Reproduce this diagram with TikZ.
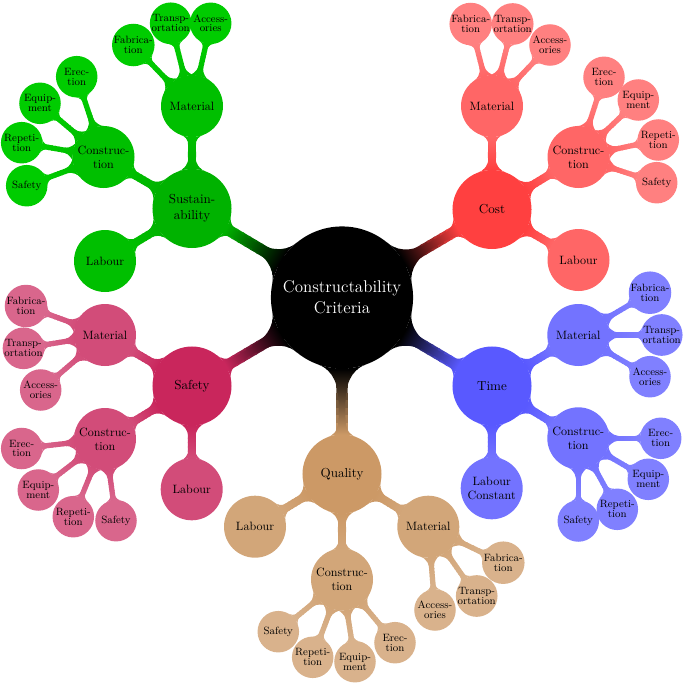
\documentclass[tikz,border=0pt]{standalone}
\usetikzlibrary{mindmap,calc,backgrounds}
\colorlet{gA}{green!70!black}\colorlet{gB}{green!75!black}\colorlet{gC}{green!80!black}
\colorlet{rA}{red!75}\colorlet{rB}{red!60}\colorlet{rC}{red!50}
\colorlet{bA}{blue!65}\colorlet{bB}{blue!55}\colorlet{bC}{blue!50}
\colorlet{tA}{brown!80}\colorlet{tB}{brown!70}\colorlet{tC}{brown!60}
\colorlet{pA}{purple!85}\colorlet{pB}{purple!70}\colorlet{pC}{purple!60}
% a b colA colB width
\newcommand\cbar[5]{%
  \foreach \i in {0,...,23}{%
    \pgfmathsetmacro\ta{\i/24}%
    \pgfmathsetmacro\tb{(\i+1.3)/24}%
    \pgfmathsetmacro\pc{min(100,max(0,(\ta+0.02-0.39)/0.36*100))}%
    \draw[line width=#5, color={#4!\pc!#3}] ($(#1)!\ta!(#2)$) -- ($(#1)!\tb!(#2)$);
  }%
  \path (#1) to[circle connection bar switch color=from (#3) to (#4)] (#2);}
\begin{document}
\begin{tikzpicture}[x=0.0285714cm,y=-0.0285714cm, mindmap,
  cpt/.style={concept, circle, inner sep=0pt, outer sep=0pt, align=center, text width={}, text=black, draw=none},
  rootc/.style={cpt, concept color=black, text=white, minimum size=4.06cm, font=\fontsize{13.8}{17}\selectfont},
  lone/.style={cpt, minimum size=2.257cm, font=\fontsize{10.6}{13}\selectfont},
  ltwo/.style={cpt, minimum size=1.771cm, font=\fontsize{9.8}{11.5}\selectfont},
  lthree/.style={cpt, minimum size=1.186cm, font=\fontsize{8.6}{8}\selectfont}]
\useasboundingbox (0,0) rectangle (685,685);
% root
\node[rootc] (root) at (342,297.5) {Constructability\\Criteria};
% level 1
\node[lone, concept color=rA] (cost) at (492,209.5) {Cost};
\node[lone, concept color=bA] (time) at (492,386) {Time};
\node[lone, concept color=tA] (qual) at (342,474) {Quality};
\node[lone, concept color=pA] (safe) at (192,386) {Safety};
\node[lone, concept color=gA] (sust) at (192,208.5) {Sustain-\\ability};
% cost
\node[ltwo, concept color=rB] (costmat) at (492,106) {Material};
\node[ltwo, concept color=rB] (costcon) at (578.5,157) {Construc-\\tion};
\node[ltwo, concept color=rB] (costlab) at (578.5,260) {Labour};
\node[lthree, concept color=rC] (costfab) at (470.7,24) {Fabrica-\\tion};
\node[lthree, concept color=rC] (costtra) at (512.7,24) {Transp-\\ortation};
\node[lthree, concept color=rC] (costacc) at (550,45) {Access-\\ories};
\node[lthree, concept color=rC] (costere) at (604,77.3) {Erec-\\tion};
\node[lthree, concept color=rC] (costequ) at (638.3,100) {Equip-\\ment};
\node[lthree, concept color=rC] (costrep) at (658.3,140) {Repeti-\\tion};
\node[lthree, concept color=rC] (costsaf) at (656.7,182.7) {Safety};
% sustainability
\node[ltwo, concept color=gB] (sustmat) at (192,106) {Material};
\node[ltwo, concept color=gB] (sustcon) at (103.5,157) {Construc-\\tion};
\node[ltwo, concept color=gB] (sustlab) at (105,261) {Labour};
\node[lthree, concept color=gC] (sustfab) at (133.3,45) {Fabrica-\\tion};
\node[lthree, concept color=gC] (susttra) at (170.7,23.3) {Transp-\\ortation};
\node[lthree, concept color=gC] (sustacc) at (210.7,23.3) {Access-\\ories};
\node[lthree, concept color=gC] (sustere) at (76.7,76.7) {Erec-\\tion};
\node[lthree, concept color=gC] (sustequ) at (40,103.3) {Equip-\\ment};
\node[lthree, concept color=gC] (sustrep) at (21.7,142.7) {Repeti-\\tion};
\node[lthree, concept color=gC] (sustsaf) at (26.7,185.7) {Safety};
% time
\node[ltwo, concept color=bB] (timemat) at (578.3,335) {Material};
\node[ltwo, concept color=bB] (timecon) at (578.3,438.3) {Construc-\\tion};
\node[ltwo, concept color=bB] (timelab) at (491.7,488.3) {Labour\\Constant};
\node[lthree, concept color=bC] (timefab) at (650,292.7) {Fabrica-\\tion};
\node[lthree, concept color=bC] (timetra) at (661.7,335) {Transp-\\ortation};
\node[lthree, concept color=bC] (timeacc) at (650,376.7) {Access-\\ories};
\node[lthree, concept color=bC] (timeere) at (660.7,438.3) {Erec-\\tion};
\node[lthree, concept color=bC] (timeequ) at (648.3,479.3) {Equip-\\ment};
\node[lthree, concept color=bC] (timerep) at (617.3,509.3) {Repeti-\\tion};
\node[lthree, concept color=bC] (timesaf) at (578.3,521) {Safety};
% safety
\node[ltwo, concept color=pB] (safemat) at (105,335) {Material};
\node[ltwo, concept color=pB] (safecon) at (105,439) {Construc-\\tion};
\node[ltwo, concept color=pB] (safelab) at (191.7,489.3) {Labour};
\node[lthree, concept color=pC] (safefab) at (26,306) {Fabrica-\\tion};
\node[lthree, concept color=pC] (safetra) at (23.5,348.3) {Transp-\\ortation};
\node[lthree, concept color=pC] (safeacc) at (40.7,390) {Access-\\ories};
\node[lthree, concept color=pC] (safeere) at (21.7,448.5) {Erec-\\tion};
\node[lthree, concept color=pC] (safeequ) at (38.3,490) {Equip-\\ment};
\node[lthree, concept color=pC] (saferep) at (73.3,516.7) {Repeti-\\tion};
\node[lthree, concept color=pC] (safesaf) at (116,520.7) {Safety};
% quality
\node[ltwo, concept color=tB] (quallab) at (255,526.7) {Labour};
\node[ltwo, concept color=tB] (qualcon) at (342,579.5) {Construc-\\tion};
\node[ltwo, concept color=tB] (qualmat) at (428.3,526.7) {Material};
\node[lthree, concept color=tC] (qualfab) at (503.3,562.7) {Fabrica-\\tion};
\node[lthree, concept color=tC] (qualtra) at (476.7,596) {Transp-\\ortation};
\node[lthree, concept color=tC] (qualacc) at (435,610) {Access-\\ories};
\node[lthree, concept color=tC] (qualsaf) at (278.3,631.7) {Safety};
\node[lthree, concept color=tC] (qualrep) at (312.7,657.3) {Repeti-\\tion};
\node[lthree, concept color=tC] (qualequ) at (355,661.7) {Equip-\\ment};
\node[lthree, concept color=tC] (qualere) at (395,642.7) {Erec-\\tion};
\begin{pgfonlayer}{background}
\cbar{root}{cost}{black}{rA}{0.32cm}
\cbar{root}{time}{black}{bA}{0.32cm}
\cbar{root}{qual}{black}{tA}{0.32cm}
\cbar{root}{safe}{black}{pA}{0.32cm}
\cbar{root}{sust}{black}{gA}{0.32cm}
\foreach \p/\a/\b in {cost/rA/rB, sust/gA/gB, time/bA/bB, safe/pA/pB, qual/tA/tB}{
  \foreach \c in {mat,con,lab}{\cbar{\p}{\p\c}{\a}{\b}{0.23cm}}
}
\foreach \p/\a/\b in {cost/rB/rC, sust/gB/gC, time/bB/bC, safe/pB/pC, qual/tB/tC}{
  \foreach \c in {fab,tra,acc}{\cbar{\p mat}{\p\c}{\a}{\b}{0.15cm}}
  \foreach \c in {ere,equ,rep,saf}{\cbar{\p con}{\p\c}{\a}{\b}{0.15cm}}
}
\end{pgfonlayer}
\end{tikzpicture}
\end{document}
